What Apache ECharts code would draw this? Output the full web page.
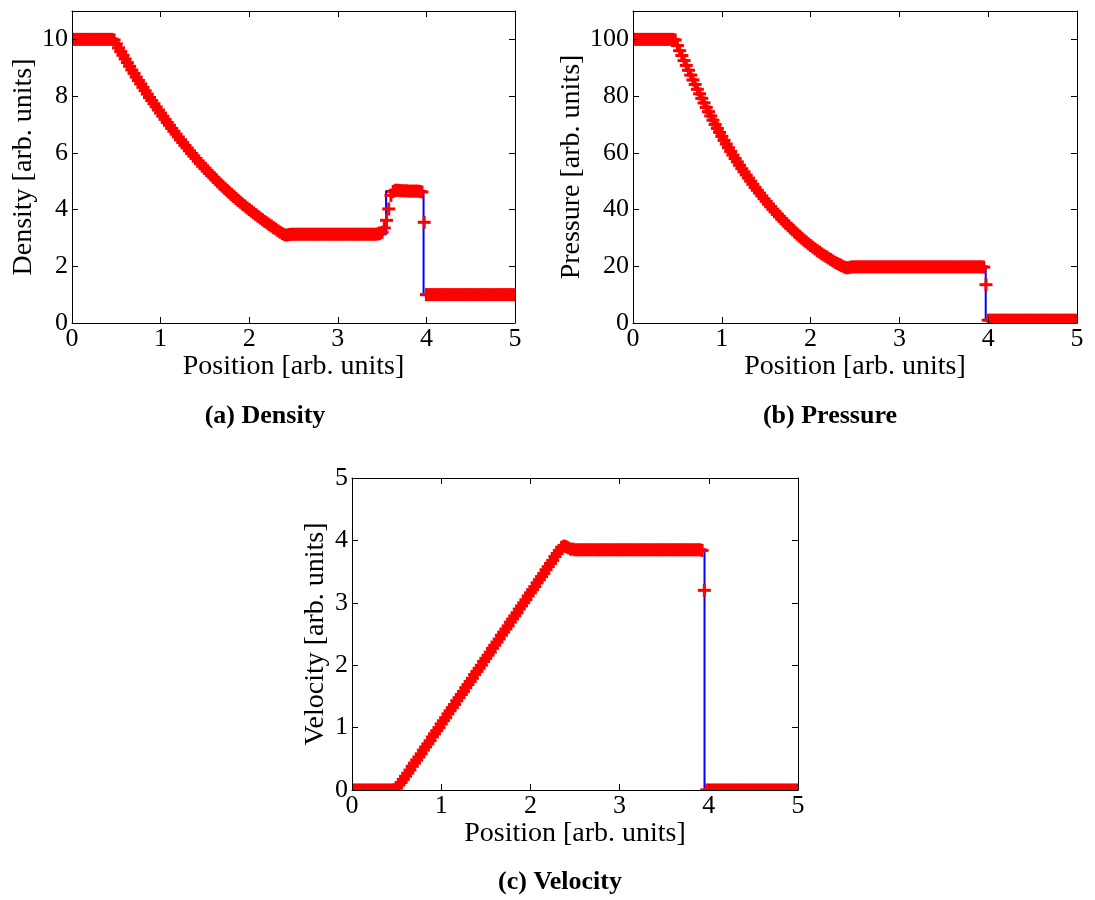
<!DOCTYPE html>
<html><head><meta charset="utf-8">
<script src="https://cdn.jsdelivr.net/npm/echarts@6/dist/echarts.min.js"></script>
<style>html,body{margin:0;padding:0;background:#fff}#c{width:1095px;height:900px}</style>
</head><body><div id="c"></div>
<script>
// x positions of the numerical solution (red markers)
const positions = [
  0.000,0.025,0.050,0.075,0.100,0.125,0.150,0.175,0.200,0.225,
  0.250,0.275,0.300,0.325,0.350,0.375,0.400,0.425,0.450,0.475,
  0.500,0.525,0.550,0.575,0.600,0.625,0.650,0.675,0.700,0.725,
  0.750,0.775,0.800,0.825,0.850,0.875,0.900,0.925,0.950,0.975,
  1.000,1.025,1.050,1.075,1.100,1.125,1.150,1.175,1.200,1.225,
  1.250,1.275,1.300,1.325,1.350,1.375,1.400,1.425,1.450,1.475,
  1.500,1.525,1.550,1.575,1.600,1.625,1.650,1.675,1.700,1.725,
  1.750,1.775,1.800,1.825,1.850,1.875,1.900,1.925,1.950,1.975,
  2.000,2.025,2.050,2.075,2.100,2.125,2.150,2.175,2.200,2.225,
  2.250,2.275,2.300,2.325,2.350,2.375,2.400,2.425,2.450,2.475,
  2.500,2.525,2.550,2.575,2.600,2.625,2.650,2.675,2.700,2.725,
  2.750,2.775,2.800,2.825,2.850,2.875,2.900,2.925,2.950,2.975,
  3.000,3.025,3.050,3.075,3.100,3.125,3.150,3.175,3.200,3.225,
  3.250,3.275,3.300,3.325,3.350,3.375,3.400,3.425,3.450,3.475,
  3.500,3.525,3.550,3.575,3.600,3.625,3.650,3.675,3.700,3.725,
  3.750,3.775,3.800,3.825,3.850,3.875,3.900,3.925,3.950,3.975,
  4.000,4.025,4.050,4.075,4.100,4.125,4.150,4.175,4.200,4.225,
  4.250,4.275,4.300,4.325,4.350,4.375,4.400,4.425,4.450,4.475,
  4.500,4.525,4.550,4.575,4.600,4.625,4.650,4.675,4.700,4.725,
  4.750,4.775,4.800,4.825,4.850,4.875,4.900,4.925,4.950,4.975,
  5.000
];
const density = [
  10,10,10,10,10,10,10,10,10,10,
  10,10,10,10,10,10,10,10,10,9.98,
  9.84,9.70,9.57,9.44,9.31,9.18,9.05,8.92,8.80,8.67,
  8.55,8.43,8.31,8.19,8.07,7.95,7.84,7.73,7.62,7.51,
  7.40,7.29,7.18,7.07,6.97,6.86,6.76,6.66,6.56,6.46,
  6.36,6.26,6.17,6.07,5.98,5.89,5.80,5.71,5.62,5.53,
  5.45,5.37,5.29,5.21,5.13,5.05,4.97,4.89,4.82,4.74,
  4.67,4.60,4.53,4.46,4.39,4.32,4.26,4.19,4.13,4.06,
  4.00,3.94,3.88,3.82,3.76,3.70,3.64,3.58,3.53,3.47,
  3.42,3.36,3.31,3.25,3.20,3.15,3.11,3.10,3.12,3.13,
  3.13,3.13,3.13,3.13,3.13,3.13,3.13,3.13,3.13,3.13,
  3.13,3.13,3.13,3.13,3.13,3.13,3.13,3.13,3.13,3.13,
  3.13,3.13,3.13,3.13,3.13,3.13,3.13,3.13,3.13,3.13,
  3.13,3.13,3.13,3.13,3.13,3.13,3.13,3.13,3.14,3.15,
  3.20,3.35,3.62,4.02,4.50,4.64,4.68,4.68,4.67,4.66,
  4.66,4.66,4.65,4.65,4.65,4.65,4.65,4.64,4.62,3.55,
  1.0,1.0,1.0,1.0,1.0,1.0,1.0,1.0,1.0,1.0,
  1.0,1.0,1.0,1.0,1.0,1.0,1.0,1.0,1.0,1.0,
  1.0,1.0,1.0,1.0,1.0,1.0,1.0,1.0,1.0,1.0,
  1.0,1.0,1.0,1.0,1.0,1.0,1.0,1.0,1.0,1.0,
  1.0
];
const pressure = [
  100,100,100,100,100,100,100,100,100,100,
  100,100,100,100,100,100,100,100,100,99.8,
  97.8,96.0,94.3,92.5,90.8,89.1,87.4,85.7,84.1,82.4,
  80.8,79.2,77.6,76.0,74.5,73.0,71.5,70.0,68.6,67.2,
  65.8,64.4,63.1,61.8,60.5,59.2,58.0,56.8,55.6,54.4,
  53.3,52.2,51.1,50.0,48.9,47.8,46.8,45.8,44.8,43.8,
  42.9,41.9,41.0,40.1,39.2,38.3,37.5,36.7,35.9,35.1,
  34.3,33.5,32.8,32.0,31.3,30.6,29.9,29.2,28.6,27.9,
  27.3,26.7,26.1,25.5,25.0,24.4,23.9,23.4,22.9,22.4,
  21.9,21.4,21.0,20.6,20.2,19.8,19.5,19.5,19.7,19.8,
  19.8,19.8,19.8,19.8,19.8,19.8,19.8,19.8,19.8,19.8,
  19.8,19.8,19.8,19.8,19.8,19.8,19.8,19.8,19.8,19.8,
  19.8,19.8,19.8,19.8,19.8,19.8,19.8,19.8,19.8,19.8,
  19.8,19.8,19.8,19.8,19.8,19.8,19.8,19.8,19.8,19.8,
  19.8,19.8,19.8,19.8,19.8,19.8,19.8,19.8,19.8,19.8,
  19.8,19.8,19.8,19.8,19.8,19.8,19.8,19.8,19.7,13.5,
  1.0,1.0,1.0,1.0,1.0,1.0,1.0,1.0,1.0,1.0,
  1.0,1.0,1.0,1.0,1.0,1.0,1.0,1.0,1.0,1.0,
  1.0,1.0,1.0,1.0,1.0,1.0,1.0,1.0,1.0,1.0,
  1.0,1.0,1.0,1.0,1.0,1.0,1.0,1.0,1.0,1.0,
  1.0
];
const velocity = [
  0,0,0,0,0,0,0,0,0,0,
  0,0,0,0,0,0,0,0,0,0,
  0.03,0.08,0.12,0.17,0.22,0.27,0.32,0.38,0.43,0.48,
  0.53,0.58,0.64,0.69,0.74,0.79,0.85,0.90,0.95,1.00,
  1.06,1.11,1.16,1.22,1.27,1.32,1.37,1.43,1.48,1.53,
  1.58,1.64,1.69,1.74,1.79,1.85,1.90,1.95,2.00,2.06,
  2.11,2.16,2.21,2.27,2.32,2.37,2.42,2.48,2.53,2.58,
  2.63,2.69,2.74,2.79,2.84,2.90,2.95,3.00,3.05,3.11,
  3.16,3.21,3.26,3.32,3.37,3.42,3.47,3.53,3.58,3.63,
  3.68,3.74,3.79,3.84,3.89,3.91,3.90,3.88,3.86,3.86,
  3.85,3.85,3.85,3.85,3.85,3.85,3.85,3.85,3.85,3.85,
  3.85,3.85,3.85,3.85,3.85,3.85,3.85,3.85,3.85,3.85,
  3.85,3.85,3.85,3.85,3.85,3.85,3.85,3.85,3.85,3.85,
  3.85,3.85,3.85,3.85,3.85,3.85,3.85,3.85,3.85,3.85,
  3.85,3.85,3.85,3.85,3.85,3.85,3.85,3.85,3.85,3.85,
  3.85,3.85,3.85,3.85,3.85,3.85,3.85,3.84,3.20,0.0,
  0,0,0,0,0,0,0,0,0,0,
  0,0,0,0,0,0,0,0,0,0,
  0,0,0,0,0,0,0,0,0,0,
  0,0,0,0,0,0,0,0,0,0,
  0
];
// exact solution (blue line): smooth part follows the rarefaction, then the jumps
const rarefactionEnd = 2.45;
const densityJumpX = [3.545, 3.545, 3.968, 3.968, 5.0];
const densityJumpY = [3.13, 4.65, 4.65, 1.0, 1.0];
const pressureJumpX = [3.972, 3.972, 5.0];
const pressureJumpY = [19.8, 1.0, 1.0];
const velocityJumpX = [3.952, 3.952, 5.0];
const velocityJumpY = [3.85, 0.0, 0.0];

const xTicks = [0,1,2,3,4,5];
const densityAxis = {max: 11, interval: 2};
const pressureAxis = {max: 110, interval: 20};
const velocityAxis = {max: 5, interval: 1};
const captions = ['(a) Density', '(b) Pressure', '(c) Velocity'];
const yNames = ['Density [arb. units]', 'Pressure [arb. units]', 'Velocity [arb. units]'];
const xName = 'Position [arb. units]';

const FONT = '"Liberation Serif","Times New Roman",serif';
const grids = [
  {left: 72, top: 11, width: 443, height: 312},
  {left: 633, top: 11, width: 444, height: 312},
  {left: 352, top: 478, width: 446, height: 312}
];
const yAx = [densityAxis, pressureAxis, velocityAxis];
const yNameGaps = [30, 45, 22];

const pairs = (xs, ys) => xs.map((x, i) => [x, ys[i]]);
const main = [density, pressure, velocity];
const jumps = [[densityJumpX, densityJumpY], [pressureJumpX, pressureJumpY], [velocityJumpX, velocityJumpY]];

const axisLine = {show: true, onZero: false, lineStyle: {color: '#000', width: 1}};
const axisTick = {show: true, inside: true, length: 6, lineStyle: {color: '#000', width: 1}};

// "+" marker drawn through the axis scales, clipped to the plot area
const MS = 13, MT = 3;
function plusMarker(params, api) {
  const p = api.coord([api.value(0), api.value(1)]);
  return {type: 'group', children: [
    {type: 'rect', shape: {x: p[0] - MS / 2, y: p[1] - MT / 2, width: MS, height: MT}, style: {fill: '#ff0000'}},
    {type: 'rect', shape: {x: p[0] - MT / 2, y: p[1] - MS / 2, width: MT, height: MS}, style: {fill: '#ff0000'}}
  ]};
}

const xAxis = [], yAxis = [], series = [];
grids.forEach((g, i) => {
  xAxis.push({gridIndex: i, type: 'value', min: xTicks[0], max: xTicks[xTicks.length-1], interval: 1,
    position: 'bottom', axisLine, axisTick, splitLine: {show: false},
    axisLabel: {fontFamily: FONT, fontSize: 26, color: '#000', margin: 3},
    name: xName, nameLocation: 'middle', nameGap: 26,
    nameTextStyle: {fontFamily: FONT, fontSize: 28, color: '#000'}, z: 5});
  xAxis.push({gridIndex: i, type: 'value', min: 0, max: 5, interval: 1, position: 'top',
    axisLine, axisTick, splitLine: {show: false}, axisLabel: {show: false}, z: 5});
  yAxis.push({gridIndex: i, type: 'value', min: 0, max: yAx[i].max, interval: yAx[i].interval,
    position: 'left', axisLine, axisTick, splitLine: {show: false},
    axisLabel: {fontFamily: FONT, fontSize: 26, color: '#000', margin: 4, showMaxLabel: i === 2},
    name: yNames[i], nameLocation: 'middle', nameGap: yNameGaps[i],
    nameTextStyle: {fontFamily: FONT, fontSize: 28, color: '#000'}, z: 5});
  yAxis.push({gridIndex: i, type: 'value', min: 0, max: yAx[i].max, interval: yAx[i].interval,
    position: 'right', axisLine, axisTick, splitLine: {show: false}, axisLabel: {show: false}, z: 5});

  const smooth = pairs(positions, main[i]).filter(p => p[0] <= rarefactionEnd);
  const exact = smooth.concat(pairs(jumps[i][0], jumps[i][1]));
  series.push({type: 'line', xAxisIndex: 2*i, yAxisIndex: 2*i, data: exact, showSymbol: false,
    lineStyle: {color: '#0000ff', width: 2}, z: 2, animation: false, silent: true, clip: true});
  series.push({type: 'custom', xAxisIndex: 2*i, yAxisIndex: 2*i, data: pairs(positions, main[i]),
    encode: {x: 0, y: 1}, renderItem: plusMarker, clip: true, z: 3, animation: false, silent: true});
});

const capPos = [[265, 416], [830, 416], [560, 882]];
const graphic = captions.map((t, i) => ({type: 'text', x: capPos[i][0], y: capPos[i][1],
  style: {text: t, font: 'bold 26px ' + FONT, fill: '#000', textAlign: 'center', textVerticalAlign: 'middle'}}));

const chart = echarts.init(document.getElementById('c'), null, {renderer: 'canvas'});
chart.setOption({animation: false, grid: grids, xAxis, yAxis, series, graphic});
</script></body></html>
